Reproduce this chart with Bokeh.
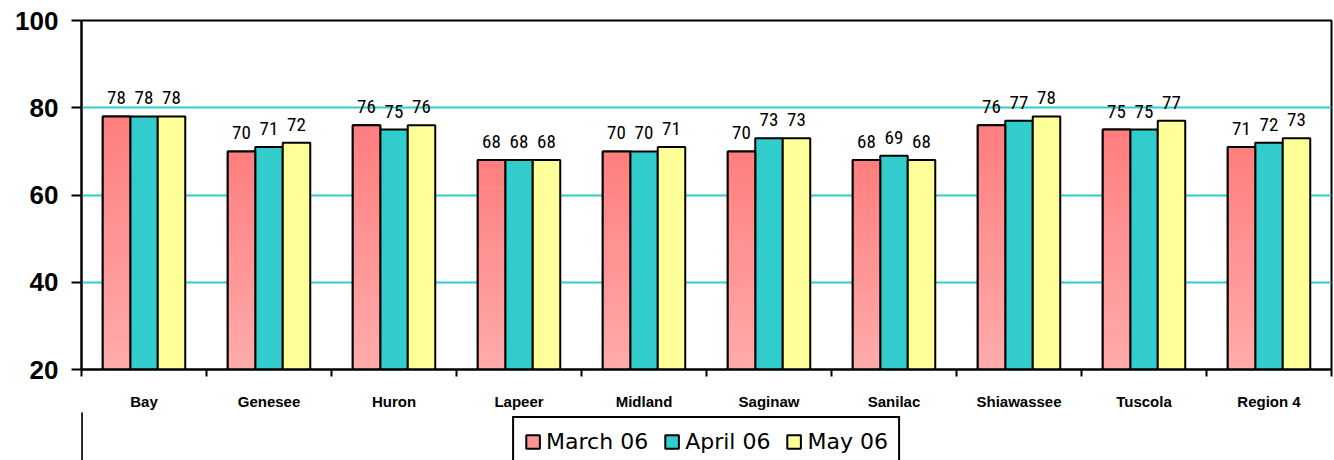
import numpy as np
from bokeh.plotting import figure
from bokeh.layouts import column
from bokeh.models import Range1d, FixedTicker, Legend, LegendItem, ColumnDataSource
from bokeh.core.properties import value
from bokeh.embed import file_html
from bokeh.resources import INLINE

categories = ["Bay", "Genesee", "Huron", "Lapeer", "Midland", "Saginaw",
              "Sanilac", "Shiawassee", "Tuscola", "Region 4"]
march = [78, 70, 76, 68, 70, 70, 68, 76, 75, 71]
april = [78, 71, 75, 68, 70, 73, 69, 77, 75, 72]
may = [78, 72, 76, 68, 71, 73, 68, 78, 77, 73]
series_names = ["March 06", "April 06", "May 06"]
y_ticks = [20, 40, 60, 80, 100]

YMIN, YMAX = 20, 100
BW = 0.22
PINK, TEAL, YELLOW = "#FF9494", "#33CCCC", "#FFFF99"

p = figure(width=1333, height=412, output_backend="svg", toolbar_location=None,
           x_range=Range1d(0, len(categories)), y_range=Range1d(YMIN, YMAX),
           min_border_left=81, min_border_right=2, min_border_top=20,
           min_border_bottom=36)
p.background_fill_color = "white"
p.border_fill_color = "white"
p.outline_line_color = "black"
p.outline_line_width = 2

centers = np.arange(len(categories)) + 0.5
offsets = [-BW, 0.0, BW]
colors = [PINK, TEAL, YELLOW]
series = [march, april, may]

for k, (vals, col) in enumerate(zip(series, colors)):
    src = ColumnDataSource(dict(x=centers + offsets[k], top=vals))
    p.vbar(x="x", top="top", bottom=YMIN, width=BW, source=src,
           fill_color=col, line_color="black", line_width=2)

# gradient for March bars (light at bottom -> darker at top)
N = 24
c_bot = np.array([255, 172, 172])
c_top = np.array([255, 126, 126])
gx, gb, gt, gc = [], [], [], []
for i, v in enumerate(march):
    edges = np.linspace(YMIN, v, N + 1)
    for j in range(N):
        f = (j + 0.5) / N
        c = (c_bot * (1 - f) + c_top * f).astype(int)
        gx.append(centers[i] + offsets[0])
        gb.append(edges[j])
        gt.append(edges[j + 1] + 0.02)
        gc.append("#%02X%02X%02X" % tuple(c))
p.vbar(x=gx, top=gt, bottom=gb, width=BW, fill_color=gc, line_color=None)
p.vbar(x=centers + offsets[0], top=march, bottom=YMIN, width=BW,
       fill_color=None, line_color="black", line_width=2)

# data labels
for k, vals in enumerate(series):
    p.text(x=centers + offsets[k], y=vals, text=[str(v) for v in vals],
           text_align="center", text_baseline="bottom", y_offset=-12,
           text_font=value("Roboto Condensed, DejaVu Sans Condensed, Roboto"),
           text_font_size="19px", text_color="black")

# axes
xa = p.xaxis[0]
xa.ticker = FixedTicker(ticks=list(centers), minor_ticks=list(range(len(categories) + 1)))
xa.major_label_overrides = {float(c): n for c, n in zip(centers, categories)}
xa.major_tick_line_color = None
xa.major_tick_out = 0
xa.major_tick_in = 0
xa.minor_tick_line_color = "black"
xa.minor_tick_line_width = 2
xa.minor_tick_out = 7
xa.minor_tick_in = 0
xa.axis_line_width = 2
xa.axis_line_color = "black"
xa.major_label_text_font = "Liberation Sans"
xa.major_label_text_font_style = "bold"
xa.major_label_text_font_size = "15px"
xa.major_label_text_color = "black"
xa.major_label_standoff = 16

ya = p.yaxis[0]
ya.ticker = FixedTicker(ticks=y_ticks)
ya.minor_tick_line_color = None
ya.major_tick_line_color = "black"
ya.major_tick_line_width = 2
ya.major_tick_out = 10
ya.major_tick_in = 0
ya.axis_line_width = 2
ya.axis_line_color = "black"
ya.major_label_text_font = "Liberation Sans"
ya.major_label_text_font_style = "bold"
ya.major_label_text_font_size = "26px"
ya.major_label_text_color = "black"
ya.major_label_standoff = 13

p.xgrid.visible = False
p.ygrid.ticker = FixedTicker(ticks=[40, 60, 80])
p.ygrid.grid_line_color = "#33CCCC"
p.ygrid.grid_line_width = 2

# legend strip below the chart
p2 = figure(width=1333, height=48, output_backend="svg", toolbar_location=None,
            x_range=Range1d(0, 1), y_range=Range1d(0, 1),
            x_axis_location=None, y_axis_location=None,
            min_border_left=81, min_border_right=2, min_border_top=0,
            min_border_bottom=0)
p2.outline_line_color = None
p2.grid.visible = False
p2.background_fill_color = "white"
p2.border_fill_color = "white"
items = []
for col, name in zip(colors, series_names):
    r = p2.vbar(x=[-10], top=[1], bottom=[0], width=0.1, fill_color=col,
                line_color="black", line_width=2)
    items.append(LegendItem(label=name, renderers=[r]))

legend = Legend(items=items, orientation="horizontal", location="top_center",
                border_line_color="black", border_line_width=2, border_line_alpha=1,
                background_fill_color="white", background_fill_alpha=1,
                label_text_font="DejaVu Sans", label_text_font_size="22px",
                label_text_color="black", glyph_width=17, glyph_height=17,
                label_standoff=5, spacing=15, padding=10, margin=4,
                label_height=26)
p2.add_layout(legend, "center")

open("out.html", "w").write(file_html(column(p, p2, spacing=0), INLINE))
